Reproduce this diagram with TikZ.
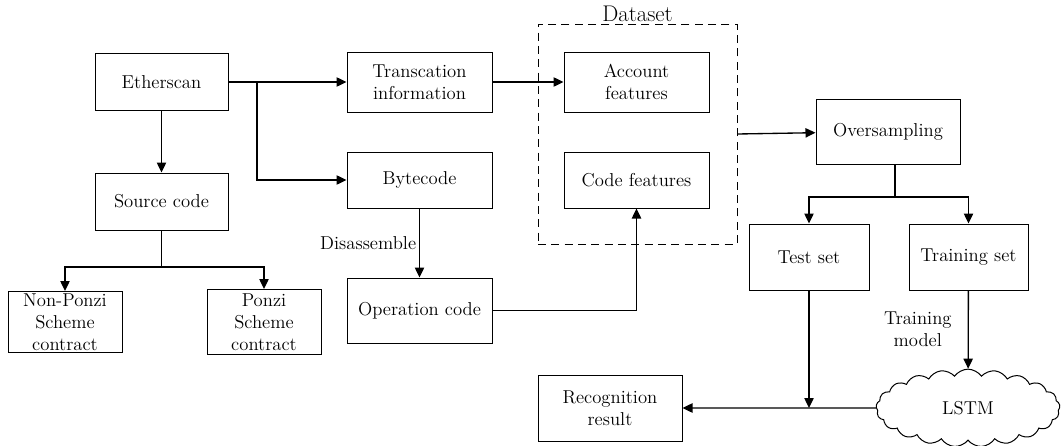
\documentclass[tikz,border=0pt]{standalone}
\usepackage{amsmath}
\usepackage{tikz}
\usetikzlibrary{arrows.meta,shapes.symbols}

\begin{document}
\begin{tikzpicture}[x=0.75pt, y=-0.75pt,
    every node/.style={font=\fontsize{14}{16.5}\selectfont, inner sep=2pt},
    box/.style={draw, line width=0.75pt, align=center},
    link/.style={line width=1pt, -{Triangle[length=7.5pt,width=7pt]}}]
    \useasboundingbox (0,0) rectangle (1061,446);

    \node (eth) at (161.5,82) [box, minimum width=99.75pt, minimum height=42.75pt] {Etherscan};
    \node (src) at (161.5,201.5) [box, minimum width=99.75pt, minimum height=42.75pt] {Source code};
    \node (nonponzi) at (65,322) [box, inner ysep=0pt, minimum width=85.5pt, minimum height=45.75pt] {Non-Ponzi\\Scheme\\contract};
    \node (ponzi) at (264,322) [box, inner ysep=0pt, minimum width=85.5pt, minimum height=48.75pt] {Ponzi\\Scheme\\contract};

    \node (trans) at (419.5,82) [box, minimum width=108.75pt, minimum height=45pt] {Transcation\\information};
    \node (byte) at (419.5,180) [box, minimum width=108.75pt, minimum height=42pt] {Bytecode};
    \node (op) at (419.5,310.5) [box, minimum width=108.75pt, minimum height=48.75pt] {Operation code};

    \node (data) at (637.5,134) [draw, line width=0.6pt, dash pattern=on 6pt off 4pt, minimum width=149.25pt, minimum height=165pt, label={[inner sep=1pt, font=\fontsize{17}{20}\selectfont]above:Dataset}] {};
    \node (acc) at (636.5,82) [box, minimum width=108.75pt, minimum height=45pt] {Account\\features};
    \node (code) at (636.5,180) [box, minimum width=108.75pt, minimum height=42pt] {Code features};

    \node (over) at (888,131.5) [box, minimum width=108pt, minimum height=48.75pt] {Oversampling};
    \node (test) at (809,257) [box, minimum width=90pt, minimum height=49.5pt] {Test set};
    \node (train) at (968.5,257) [box, minimum width=89.25pt, minimum height=49.5pt] {Training set};
    \node (lstm) at (968,408) [draw, line width=0.75pt, cloud, cloud puffs=21, cloud puff arc=110, minimum width=138pt, minimum height=41pt, inner sep=0pt] {LSTM};
    \node (res) at (610,408) [box, minimum width=108pt, minimum height=49.5pt] {Recognition\\result};

    \coordinate (split) at (257,82);
    \coordinate (srcsplit) at (161.5,267);
    \coordinate (oversplit) at (895,197);

    \draw[link] (eth) -- (trans);
    \draw[link] (split) |- (byte);
    \draw[link] (eth) -- (src);
    \draw[line width=1pt] (src) -- (srcsplit);
    \draw[link] (srcsplit) -| (nonponzi);
    \draw[link] (srcsplit) -| (ponzi);

    \draw[link] (byte) -- node[left] {Disassemble} (op);
    \draw[link] (op) -| (code);
    \draw[link] (trans) -- (acc);
    \draw[link] (data.east) -- (over);

    \draw[line width=1pt] (oversplit |- over.south) -- (oversplit);
    \draw[link] (oversplit) -| (test);
    \draw[link] (oversplit) -| (train);
    \draw[link] (test) -- (test |- lstm);
    \draw[link] (lstm) -- (res);
    \draw[link] (train) -- node[left=10pt, align=center] {Training\\model} (lstm);
\end{tikzpicture}
\end{document}
